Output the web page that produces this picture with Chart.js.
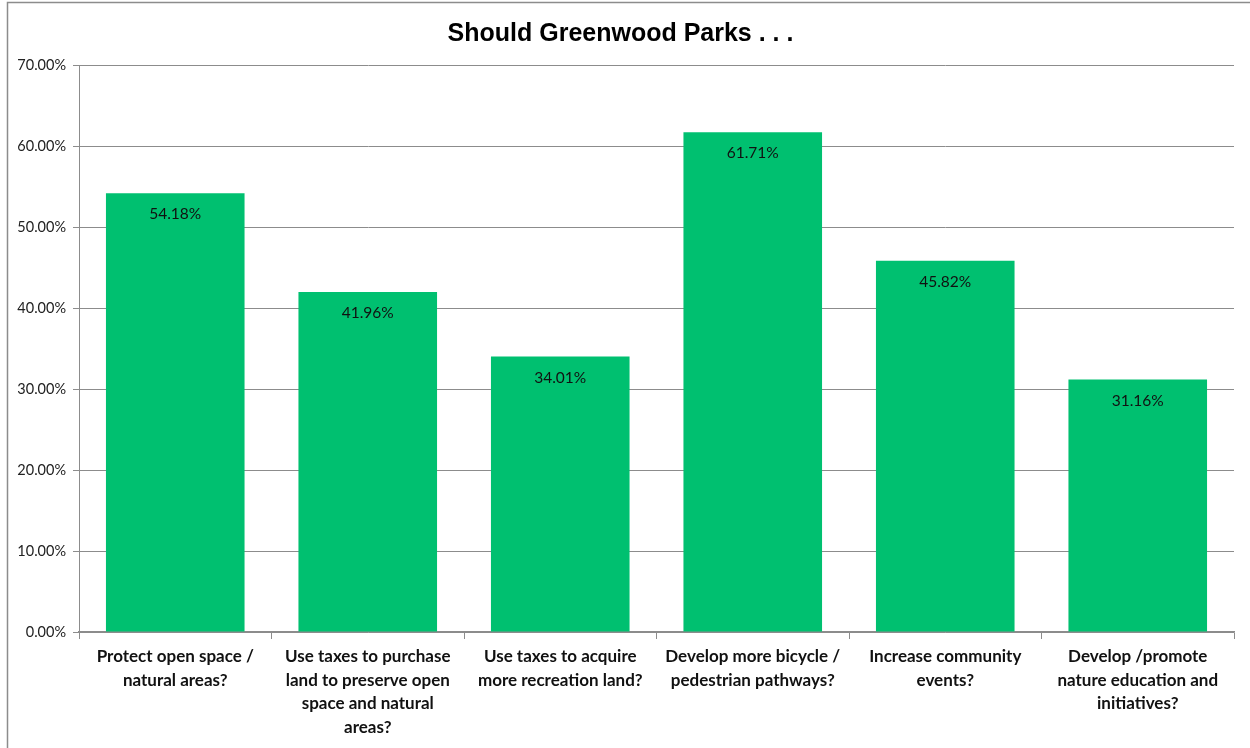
<!DOCTYPE html>
<html>
<head>
<meta charset="utf-8">
<script src="https://cdn.jsdelivr.net/npm/chart.js@4"></script>
<style>
  body { margin: 0; background: #fff; }
  #wrap { width: 1250px; height: 748px; position: relative; }
</style>
</head>
<body>
<div id="wrap"><canvas id="mygraph" width="1250" height="748"></canvas></div>
<script>
let categories = [
  ["Protect open space /", "natural areas?"],
  ["Use taxes to purchase", "land to preserve open", "space and natural", "areas?"],
  ["Use taxes to acquire", "more recreation land?"],
  ["Develop more bicycle /", "pedestrian pathways?"],
  ["Increase community", "events?"],
  ["Develop /promote", "nature education and", "initiatives?"]
];
let percents = [54.18, 41.96, 34.01, 61.71, 45.82, 31.16];
let yTicks = [0, 10, 20, 30, 40, 50, 60, 70];

// frame lines round the chart, like the spreadsheet box
var frame = {
  id: "frame",
  beforeDraw(chart) {
    var c = chart.ctx;
    c.save();
    c.strokeStyle = "#8c8c8c";
    c.lineWidth = 1.5;
    c.beginPath();
    c.moveTo(7.5, 748);
    c.lineTo(7.5, 2.5);
    c.lineTo(1250, 2.5);
    c.stroke();
    c.restore();
  }
};

// value labels just inside the top of each bar
var barLabels = {
  id: "barLabels",
  afterDatasetsDraw(chart) {
    var c = chart.ctx;
    var meta = chart.getDatasetMeta(0);
    c.save();
    c.font = "15.5px Lato";
    c.fillStyle = "#111";
    c.textAlign = "center";
    c.textBaseline = "middle";
    meta.data.forEach(function(bar, i) {
      c.fillText(percents[i].toFixed(2) + "%", bar.x, bar.y + 21);
    });
    c.restore();
  }
};

var ctx = document.getElementById("mygraph");
var mygraph = new Chart(ctx, {
  type: "bar",
  data: {
    labels: categories,
    datasets: [{
      data: percents,
      backgroundColor: "#00C070",
      barPercentage: 0.72,
      categoryPercentage: 1
    }]
  },
  options: {
    responsive: false,
    animation: false,
    layout: { padding: { left: 7, right: 16, top: 0, bottom: 0 } },
    plugins: {
      legend: { display: false },
      tooltip: { enabled: false },
      title: {
        display: true,
        text: "Should Greenwood Parks . . .",
        color: "#000",
        font: { family: "Liberation Sans", size: 25, weight: "bold" },
        padding: { top: 19, bottom: 16 }
      }
    },
    scales: {
      y: {
        min: 0,
        max: 70,
        afterFit(scale) { scale.width = 72; },
        afterBuildTicks(scale) { scale.ticks = yTicks.map(v => ({ value: v })); },
        ticks: {
          color: "#222",
          font: { family: "Lato", size: 14.5 },
          padding: 7,
          callback: v => v.toFixed(2) + "%"
        },
        grid: { color: "#8c8c8c", lineWidth: 1, tickLength: 6 },
        border: { color: "#8c8c8c", width: 1 }
      },
      x: {
        afterFit(scale) { scale.height = 116; },
        ticks: {
          color: "#111",
          font: { family: "Lato", size: 17, weight: "bold", lineHeight: 1.38 },
          maxRotation: 0,
          autoSkip: false,
          padding: 6
        },
        grid: { drawOnChartArea: false, color: "#8c8c8c", tickLength: 7 },
        border: { color: "#8c8c8c", width: 1.5 }
      }
    }
  },
  plugins: [frame, barLabels]
});
</script>
</body>
</html>
